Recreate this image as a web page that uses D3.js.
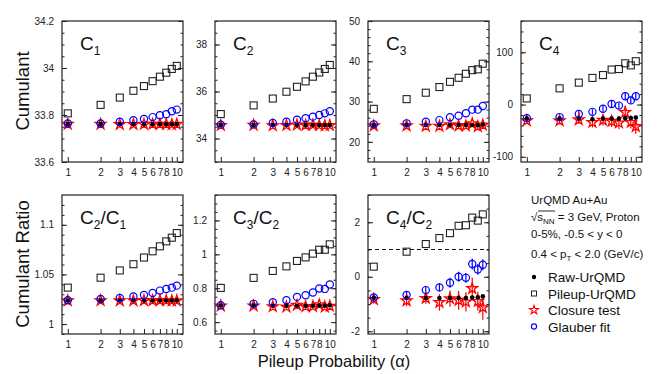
<!DOCTYPE html>
<html lang="en">
<head>
  <meta charset="UTF-8" />
  <title>Pileup cumulants</title>
  <style>
    body { margin: 0; background: #fff; }
    svg { display: block; font-family: "Liberation Sans", Arial, sans-serif; }
    .tick text { font-size: 10px; fill: #222; }
    .frame { fill: none; stroke: #222; stroke-width: 1.2; }
  </style>
  <script src="https://cdn.jsdelivr.net/npm/d3@7"></script>
</head>
<body>
<svg id="chart" width="664" height="374"></svg>
<script>
// pileup probability (x axis, log)
const alpha = [1, 2, 3, 4, 5, 6, 7, 8, 9, 10];
const alphaLabels = [1, 2, 3, 4, 5, 6, 7, 8, 10];

// C1
const c1Raw     = [33.761, 33.761, 33.761, 33.761, 33.761, 33.761, 33.761, 33.761, 33.761, 33.761];
const c1Pileup  = [33.807, 33.843, 33.874, 33.903, 33.923, 33.944, 33.963, 33.980, 33.996, 34.009];
const c1Closure = [33.761, 33.761, 33.760, 33.760, 33.761, 33.761, 33.761, 33.761, 33.760, 33.761];
const c1Glauber = [33.764, 33.764, 33.771, 33.778, 33.783, 33.791, 33.799, 33.803, 33.816, 33.823];
// C2
const c2Raw     = [34.57, 34.57, 34.57, 34.57, 34.57, 34.57, 34.57, 34.57, 34.57, 34.57];
const c2Pileup  = [35.04, 35.41, 35.70, 35.99, 36.20, 36.43, 36.63, 36.81, 36.96, 37.13];
const c2Closure = [34.56, 34.57, 34.55, 34.56, 34.58, 34.57, 34.58, 34.56, 34.55, 34.56];
const c2Glauber = [34.59, 34.60, 34.66, 34.71, 34.80, 34.86, 34.93, 35.00, 35.07, 35.16];
// C3
const c3Raw     = [24.2, 24.2, 24.2, 24.2, 24.2, 24.2, 24.2, 24.2, 24.1, 24.3];
const c3Pileup  = [28.2, 30.6, 32.2, 33.6, 34.9, 35.9, 36.9, 37.8, 38.0, 39.4];
const c3Closure = [24.0, 24.0, 23.9, 23.9, 24.3, 24.0, 24.0, 24.5, 23.8, 24.2];
const c3Glauber = [24.35, 24.6, 25.0, 25.4, 26.1, 26.5, 27.1, 28.0, 28.0, 28.9];
// C4
const c4Raw     = [-27, -27, -27, -28, -27, -27, -27, -26, -26, -25];
const c4Pileup  = [11.7, 31, 42, 51, 56.5, 67, 68, 79, 75, 83];
const c4Closure = [-31, -31, -29, -34, -30, -32, -35, -15, -34, -42];
const c4ClosureErr = [6, 7, 8, 10, 10, 11, 12, 12, 12, 14];
const c4Glauber = [-26, -24, -18, -14, -8, 1, -2, 16, 8, 16];
const c4GlauberErr = [3, 4, 5, 5, 6, 6, 6, 7, 7, 7];
// C2/C1
const r21Raw     = [1.0237, 1.0237, 1.0237, 1.0237, 1.0237, 1.0237, 1.0237, 1.0237, 1.0237, 1.0237];
const r21Pileup  = [1.0367, 1.0467, 1.0540, 1.0603, 1.0670, 1.0733, 1.0783, 1.0833, 1.0870, 1.0917];
const r21Closure = [1.0236, 1.0237, 1.0235, 1.0236, 1.0238, 1.0237, 1.0238, 1.0237, 1.0235, 1.0236];
const r21Glauber = [1.0240, 1.0253, 1.0263, 1.0277, 1.0293, 1.0313, 1.0337, 1.0353, 1.0367, 1.0387];
// C3/C2
const r32Raw     = [0.698, 0.698, 0.697, 0.696, 0.697, 0.696, 0.697, 0.699, 0.697, 0.700];
const r32Pileup  = [0.802, 0.861, 0.902, 0.929, 0.961, 0.982, 1.004, 1.027, 1.027, 1.059];
const r32Closure = [0.696, 0.696, 0.692, 0.690, 0.700, 0.692, 0.693, 0.703, 0.690, 0.695];
const r32Glauber = [0.700, 0.708, 0.718, 0.729, 0.749, 0.759, 0.775, 0.798, 0.796, 0.822];
// C4/C2
const r42Raw     = [-0.77, -0.77, -0.78, -0.78, -0.78, -0.78, -0.78, -0.76, -0.75, -0.72];
const r42Pileup  = [0.37, 0.92, 1.20, 1.42, 1.60, 1.87, 1.89, 2.17, 2.06, 2.29];
const r42Closure = [-0.83, -0.88, -0.79, -0.94, -0.80, -0.86, -0.92, -0.43, -0.90, -1.13];
const r42ClosureErr = [0.15, 0.2, 0.2, 0.3, 0.3, 0.35, 0.35, 0.4, 0.35, 0.45];
const r42Glauber = [-0.76, -0.67, -0.49, -0.39, -0.22, 0.0, -0.04, 0.47, 0.27, 0.44];
const r42GlauberErr = [0.1, 0.12, 0.15, 0.15, 0.18, 0.18, 0.18, 0.2, 0.2, 0.2];

const svg = d3.select('#chart');

const panels = [
  { lbl: [['C',0],['1',1]], left: 62, top: 21, h: 141, dom: [33.6, 34.2], major: [33.6, 33.8, 34, 34.2], minorStep: 0.05,
    raw: c1Raw, pile: c1Pileup, clo: c1Closure, gla: c1Glauber },
  { lbl: [['C',0],['2',1]], left: 215, top: 21, h: 141, dom: [33, 39], major: [34, 36, 38], minorStep: 0.5,
    raw: c2Raw, pile: c2Pileup, clo: c2Closure, gla: c2Glauber },
  { lbl: [['C',0],['3',1]], left: 368, top: 21, h: 141, dom: [15, 50], major: [20, 30, 40, 50], minorStep: 2,
    raw: c3Raw, pile: c3Pileup, clo: c3Closure, gla: c3Glauber },
  { lbl: [['C',0],['4',1]], left: 521, top: 21, h: 141, dom: [-110, 160], major: [-100, 0, 100], minorStep: 20,
    raw: c4Raw, pile: c4Pileup, clo: c4Closure, gla: c4Glauber, cloErr: c4ClosureErr, glaErr: c4GlauberErr },
  { lbl: [['C',0],['2',1],['/C',0],['1',1]], left: 62, top: 195, h: 139, dom: [0.99, 1.13], major: [1, 1.05, 1.1], minorStep: 0.01,
    raw: r21Raw, pile: r21Pileup, clo: r21Closure, gla: r21Glauber },
  { lbl: [['C',0],['3',1],['/C',0],['2',1]], left: 215, top: 195, h: 139, dom: [0.53, 1.35], major: [0.6, 0.8, 1, 1.2], minorStep: 0.05,
    raw: r32Raw, pile: r32Pileup, clo: r32Closure, gla: r32Glauber },
  { lbl: [['C',0],['4',1],['/C',0],['2',1]], left: 368, top: 195, h: 139, dom: [-2.1, 3], major: [-2, 0, 2], minorStep: 0.5,
    raw: r42Raw, pile: r42Pileup, clo: r42Closure, gla: r42Glauber, cloErr: r42ClosureErr, glaErr: r42GlauberErr, dashed: 1 }
];

const W = 121;
const x = d3.scaleLog().domain([0.885, 11.4]).range([0, W]);
const star = d3.symbol().type(d3.symbolStar);

function drawPanel(p) {
  const g = svg.append('g').attr('transform', `translate(${p.left},${p.top})`);
  const y = d3.scaleLinear().domain(p.dom).range([p.h, 0]);
  const fmt = d => +d.toFixed(3);

  const minors = d3.range(Math.ceil(p.dom[0] / p.minorStep), Math.floor(p.dom[1] / p.minorStep) + 1)
    .map(k => +(k * p.minorStep).toFixed(4));

  // y axes, ticks pointing inward
  g.append('g').call(d3.axisLeft(y).tickValues(p.major).tickFormat(fmt).tickSizeInner(-5).tickSizeOuter(0).tickPadding(8))
    .call(a => a.select('.domain').remove());
  g.append('g').call(d3.axisLeft(y).tickValues(minors).tickFormat('').tickSizeInner(-2.5).tickSizeOuter(0))
    .call(a => a.select('.domain').remove());
  g.append('g').attr('transform', `translate(${W},0)`)
    .call(d3.axisRight(y).tickValues(p.major).tickFormat('').tickSizeInner(-5).tickSizeOuter(0))
    .call(a => a.select('.domain').remove());
  g.append('g').attr('transform', `translate(${W},0)`)
    .call(d3.axisRight(y).tickValues(minors).tickFormat('').tickSizeInner(-2.5).tickSizeOuter(0))
    .call(a => a.select('.domain').remove());
  // x axis
  g.append('g').attr('transform', `translate(0,${p.h})`)
    .call(d3.axisBottom(x).tickValues(alpha).tickFormat(d => alphaLabels.includes(d) ? d : '')
      .tickSizeInner(-5).tickSizeOuter(0).tickPadding(7))
    .call(a => a.select('.domain').remove());
  g.selectAll('.tick line').attr('stroke', '#222');

  g.append('rect').attr('class', 'frame').attr('width', W).attr('height', p.h);

  if (p.dashed !== undefined) {
    g.append('line').attr('x1', 0).attr('x2', W).attr('y1', y(p.dashed)).attr('y2', y(p.dashed))
      .attr('stroke', '#111').attr('stroke-width', 1).attr('stroke-dasharray', '4,3');
  }

  // label
  const t = g.append('text').attr('x', 18).attr('y', 29).attr('fill', '#111');
  p.lbl.forEach(([s, sub], i) => {
    const prevSub = i > 0 ? p.lbl[i - 1][1] : 0;
    t.append('tspan').text(s)
      .attr('font-size', sub ? 12 : 19)
      .attr('dy', sub && !prevSub ? 5 : (!sub && prevSub ? -5 : 0));
  });

  // error bars
  const errs = (vals, e, color) => {
    if (!e) return;
    g.append('g').selectAll('line').data(vals).join('line')
      .attr('x1', (d, i) => x(alpha[i])).attr('x2', (d, i) => x(alpha[i]))
      .attr('y1', (d, i) => y(d - e[i])).attr('y2', (d, i) => y(d + e[i]))
      .attr('stroke', color).attr('stroke-width', 1.2);
  };
  errs(p.clo, p.cloErr, '#f00');
  errs(p.gla, p.glaErr, '#00f');

  // pileup squares
  g.append('g').selectAll('rect').data(p.pile).join('rect')
    .attr('x', (d, i) => x(alpha[i]) - 3.5).attr('y', d => y(d) - 3.5)
    .attr('width', 7).attr('height', 7)
    .attr('fill', 'none').attr('stroke', '#222').attr('stroke-width', 1.1);
  // closure stars
  g.append('g').selectAll('path').data(p.clo).join('path')
    .attr('d', star.size(36)())
    .attr('transform', (d, i) => `translate(${x(alpha[i])},${y(d)})`)
    .attr('fill', 'none').attr('stroke', '#f00').attr('stroke-width', 1.3);
  // raw dots
  g.append('g').selectAll('circle').data(p.raw).join('circle')
    .attr('cx', (d, i) => x(alpha[i])).attr('cy', d => y(d)).attr('r', 2.3).attr('fill', '#000');
  // glauber circles
  g.append('g').selectAll('circle').data(p.gla).join('circle')
    .attr('cx', (d, i) => x(alpha[i])).attr('cy', d => y(d)).attr('r', 3.6)
    .attr('fill', 'none').attr('stroke', '#00f').attr('stroke-width', 1.2);
}

panels.forEach(drawPanel);

// axis titles
svg.append('text').attr('transform', 'translate(29,91) rotate(-90)').attr('text-anchor', 'middle')
  .attr('font-size', 18.5).attr('fill', '#111').text('Cumulant');
svg.append('text').attr('transform', 'translate(29,264) rotate(-90)').attr('text-anchor', 'middle')
  .attr('font-size', 18.5).attr('fill', '#111').text('Cumulant Ratio');
svg.append('text').attr('x', 334).attr('y', 367).attr('text-anchor', 'middle')
  .attr('font-size', 16.5).attr('fill', '#111').text('Pileup Probability (α)');

// info text
const info = svg.append('g').attr('font-size', 11.5).attr('fill', '#111');
info.append('text').attr('x', 531).attr('y', 204).text('UrQMD Au+Au');
const l2 = info.append('text').attr('x', 531).attr('y', 221);
l2.append('tspan').text('√');
l2.append('tspan').text('s').attr('dx', 0);
l2.append('tspan').text('NN').attr('font-size', 8).attr('dy', 3);
l2.append('tspan').text(' = 3 GeV, Proton').attr('dy', -3);
info.append('line').attr('x1', 538).attr('x2', 555).attr('y1', 211).attr('y2', 211).attr('stroke', '#111').attr('stroke-width', 0.9);
info.append('text').attr('x', 531).attr('y', 238).text('0-5%, -0.5 < y < 0');
const l4 = info.append('text').attr('x', 531).attr('y', 258);
l4.append('tspan').text('0.4 < p');
l4.append('tspan').text('T').attr('font-size', 8).attr('dy', 3);
l4.append('tspan').text(' < 2.0 (GeV/c)').attr('dy', -3);

// legend
const legendNames = ['Raw-UrQMD', 'Pileup-UrQMD', 'Closure test', 'Glauber fit'];
const leg = svg.append('g');
legendNames.forEach((name, i) => {
  const cy = 277 + i * 16.5;
  const mx = 534;
  if (i === 0) leg.append('circle').attr('cx', mx).attr('cy', cy).attr('r', 2.2).attr('fill', '#000');
  if (i === 1) leg.append('rect').attr('x', mx - 2.5).attr('y', cy - 2.5).attr('width', 5).attr('height', 5)
    .attr('fill', 'none').attr('stroke', '#222');
  if (i === 2) leg.append('path').attr('d', star.size(24)()).attr('transform', `translate(${mx},${cy})`)
    .attr('fill', 'none').attr('stroke', '#f00').attr('stroke-width', 1.1);
  if (i === 3) leg.append('circle').attr('cx', mx).attr('cy', cy).attr('r', 2.6)
    .attr('fill', 'none').attr('stroke', '#00f').attr('stroke-width', 1.1);
  leg.append('text').attr('x', 548).attr('y', cy + 5).attr('font-size', 13.5).attr('fill', '#111').text(name);
});
</script>
</body>
</html>
